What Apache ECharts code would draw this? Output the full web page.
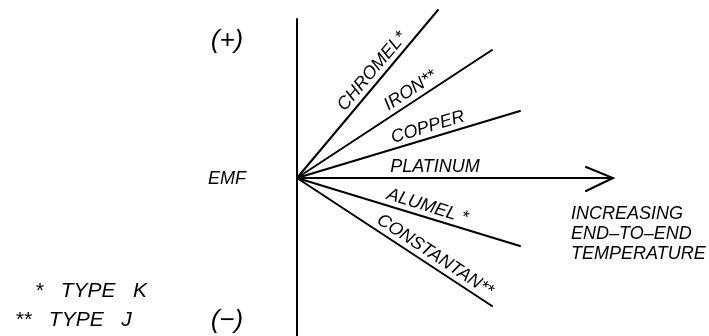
<!DOCTYPE html>
<html>
<head>
<meta charset="utf-8">
<script src="https://cdn.jsdelivr.net/npm/echarts@6/dist/echarts.min.js"></script>
<style>
html,body{margin:0;padding:0;background:#fff;}
#chart{width:709px;height:336px;}
</style>
</head>
<body>
<div id="chart"></div>
<script>
// ---- data ----
const conductors = ['CHROMEL*', 'IRON**', 'COPPER', 'PLATINUM', 'ALUMEL *', 'CONSTANTAN**'];
const endTemperature = [141, 195, 223, 316, 223, 195];
const endEmf = [168, 128, 67, 0, -68, -128];
const arrowTemperature = [289, 316, 289];
const arrowEmf = [11, 0, -13];
const emfName = 'EMF';
const emfTickLabels = ['(+)', '(−)'];
const temperatureNote = ['INCREASING', 'END–TO–END', 'TEMPERATURE'];
const typeNotes = ['*   TYPE   K', '**   TYPE   J'];

// ---- style / layout ----
const FONT = 'Liberation Sans';
const labelAlongPx = [130, 143, 140, 138, 133, 158];
const labelGapPx = 11;
const baseText = { fontFamily: FONT, fontStyle: 'italic', fontSize: 18, fill: '#000', verticalAlign: 'middle' };

const chart = echarts.init(document.getElementById('chart'), null, { renderer: 'canvas' });

const series = conductors.map((name, i) => ({
  name: name,
  type: 'line',
  data: [[0, 0], [endTemperature[i], endEmf[i]]],
  symbol: 'none',
  clip: false,
  silent: true,
  lineStyle: { color: '#000', width: 2, cap: 'round' }
}));
series.push({
  name: 'arrow',
  type: 'line',
  data: arrowTemperature.map((t, i) => [t, arrowEmf[i]]),
  symbol: 'none',
  clip: false,
  silent: true,
  lineStyle: { color: '#000', width: 2, cap: 'round', join: 'miter' }
});

chart.setOption({
  animation: false,
  backgroundColor: '#fff',
  grid: { left: 0, right: 0, top: 19, bottom: 0, containLabel: false },
  xAxis: { type: 'value', min: -297, max: 412, interval: 297, show: false },
  yAxis: {
    type: 'value', min: -158, max: 159, interval: 158,
    axisLine: { show: true, onZero: true, lineStyle: { color: '#000', width: 2 } },
    axisTick: { show: false }, axisLabel: { show: false }, splitLine: { show: false }
  },
  series: series
});

// place the rotated conductor labels along their lines
const o = chart.convertToPixel({ gridIndex: 0 }, [0, 0]);
const labelSeries = conductors.map((name, i) => {
  const e = chart.convertToPixel({ gridIndex: 0 }, [endTemperature[i], endEmf[i]]);
  const dx = e[0] - o[0], dy = e[1] - o[1];
  const len = Math.hypot(dx, dy);
  const ux = dx / len, uy = dy / len;
  const nx = uy, ny = -ux;
  const px = o[0] + ux * labelAlongPx[i] + nx * labelGapPx;
  const py = o[1] + uy * labelAlongPx[i] + ny * labelGapPx;
  const c = chart.convertFromPixel({ gridIndex: 0 }, [px, py]);
  const ang = -Math.atan2(dy, dx) * 180 / Math.PI;
  return {
    markPoint: {
      silent: true,
      symbol: 'circle', symbolSize: 0,
      data: [{ coord: c, name: name }],
      label: {
        show: true, position: 'inside', formatter: name, rotate: ang,
        align: 'center', verticalAlign: 'middle',
        fontFamily: FONT, fontStyle: 'italic', fontSize: 18, color: '#000'
      }
    }
  };
});
labelSeries.push({});

chart.setOption({
  series: labelSeries,
  graphic: [
    { type: 'text', x: 227, y: 41, style: Object.assign({}, baseText, { text: emfTickLabels[0], fontSize: 26, align: 'center' }) },
    { type: 'text', x: 227, y: 321, style: Object.assign({}, baseText, { text: emfTickLabels[1], fontSize: 26, align: 'center' }) },
    { type: 'text', x: 208, y: 179, style: Object.assign({}, baseText, { text: emfName, align: 'left' }) },
    { type: 'text', x: 571, y: 234, style: Object.assign({}, baseText, { text: temperatureNote.join('\n'), lineHeight: 20, align: 'left' }) },
    { type: 'text', x: 35, y: 291, style: Object.assign({}, baseText, { text: typeNotes[0], fontSize: 21, align: 'left' }) },
    { type: 'text', x: 15, y: 320, style: Object.assign({}, baseText, { text: typeNotes[1], fontSize: 21, align: 'left' }) }
  ]
});
</script>
</body>
</html>
